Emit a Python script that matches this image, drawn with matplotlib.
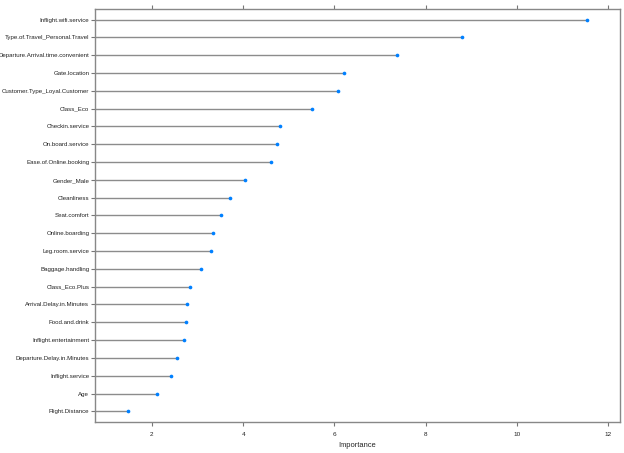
import matplotlib
matplotlib.use("Agg")
import matplotlib.pyplot as plt

features = [
    "Inflight.wifi.service",
    "Type.of.Travel_Personal.Travel",
    "Departure.Arrival.time.convenient",
    "Gate.location",
    "Customer.Type_Loyal.Customer",
    "Class_Eco",
    "Checkin.service",
    "On.board.service",
    "Ease.of.Online.booking",
    "Gender_Male",
    "Cleanliness",
    "Seat.comfort",
    "Online.boarding",
    "Leg.room.service",
    "Baggage.handling",
    "Class_Eco.Plus",
    "Arrival.Delay.in.Minutes",
    "Food.and.drink",
    "Inflight.entertainment",
    "Departure.Delay.in.Minutes",
    "Inflight.service",
    "Age",
    "Flight.Distance",
]
importance = [11.54, 8.80, 7.36, 6.21, 6.08, 5.50, 4.80, 4.75, 4.61, 4.03,
              3.72, 3.51, 3.33, 3.29, 3.08, 2.83, 2.77, 2.74, 2.71, 2.55,
              2.42, 2.11, 1.47]
xticks = [2, 4, 6, 8, 10, 12]

plt.rcParams['font.family'] = ['Liberation Sans', 'DejaVu Sans']

fig = plt.figure(figsize=(6.24, 4.53), dpi=100)
ax = fig.add_axes([0.152, 0.0684, 0.842, 0.912])

n = len(features)
ypos = list(range(n, 0, -1))
xmin, xmax = 0.75, 12.26
ax.set_xlim(xmin, xmax)
ax.set_ylim(0.4, n + 0.6)

ax.hlines(ypos, xmin, importance, colors='#8c8c8c', linewidth=1.0, zorder=2)
ax.scatter(importance, ypos, s=7, color='#0080ff', zorder=3, linewidths=0)

ax.set_yticks(ypos)
ax.set_yticklabels(features, fontsize=4.45, color='#222222')
ax.set_xticks(xticks)
ax.set_xticklabels([str(t) for t in xticks], fontsize=4.6, color='#222222')
ax.tick_params(axis='x', which='both', direction='out', length=3, width=0.8,
               color='#777777', top=True, pad=4)
ax.tick_params(axis='y', direction='out', length=3, width=0.8,
               color='#777777', pad=1)
for s in ax.spines.values():
    s.set_color('#888888')
    s.set_linewidth(1.0)
ax.set_xlabel('Importance', fontsize=5.4, color='#222222', labelpad=4)

fig.savefig('out.png', dpi=100)
